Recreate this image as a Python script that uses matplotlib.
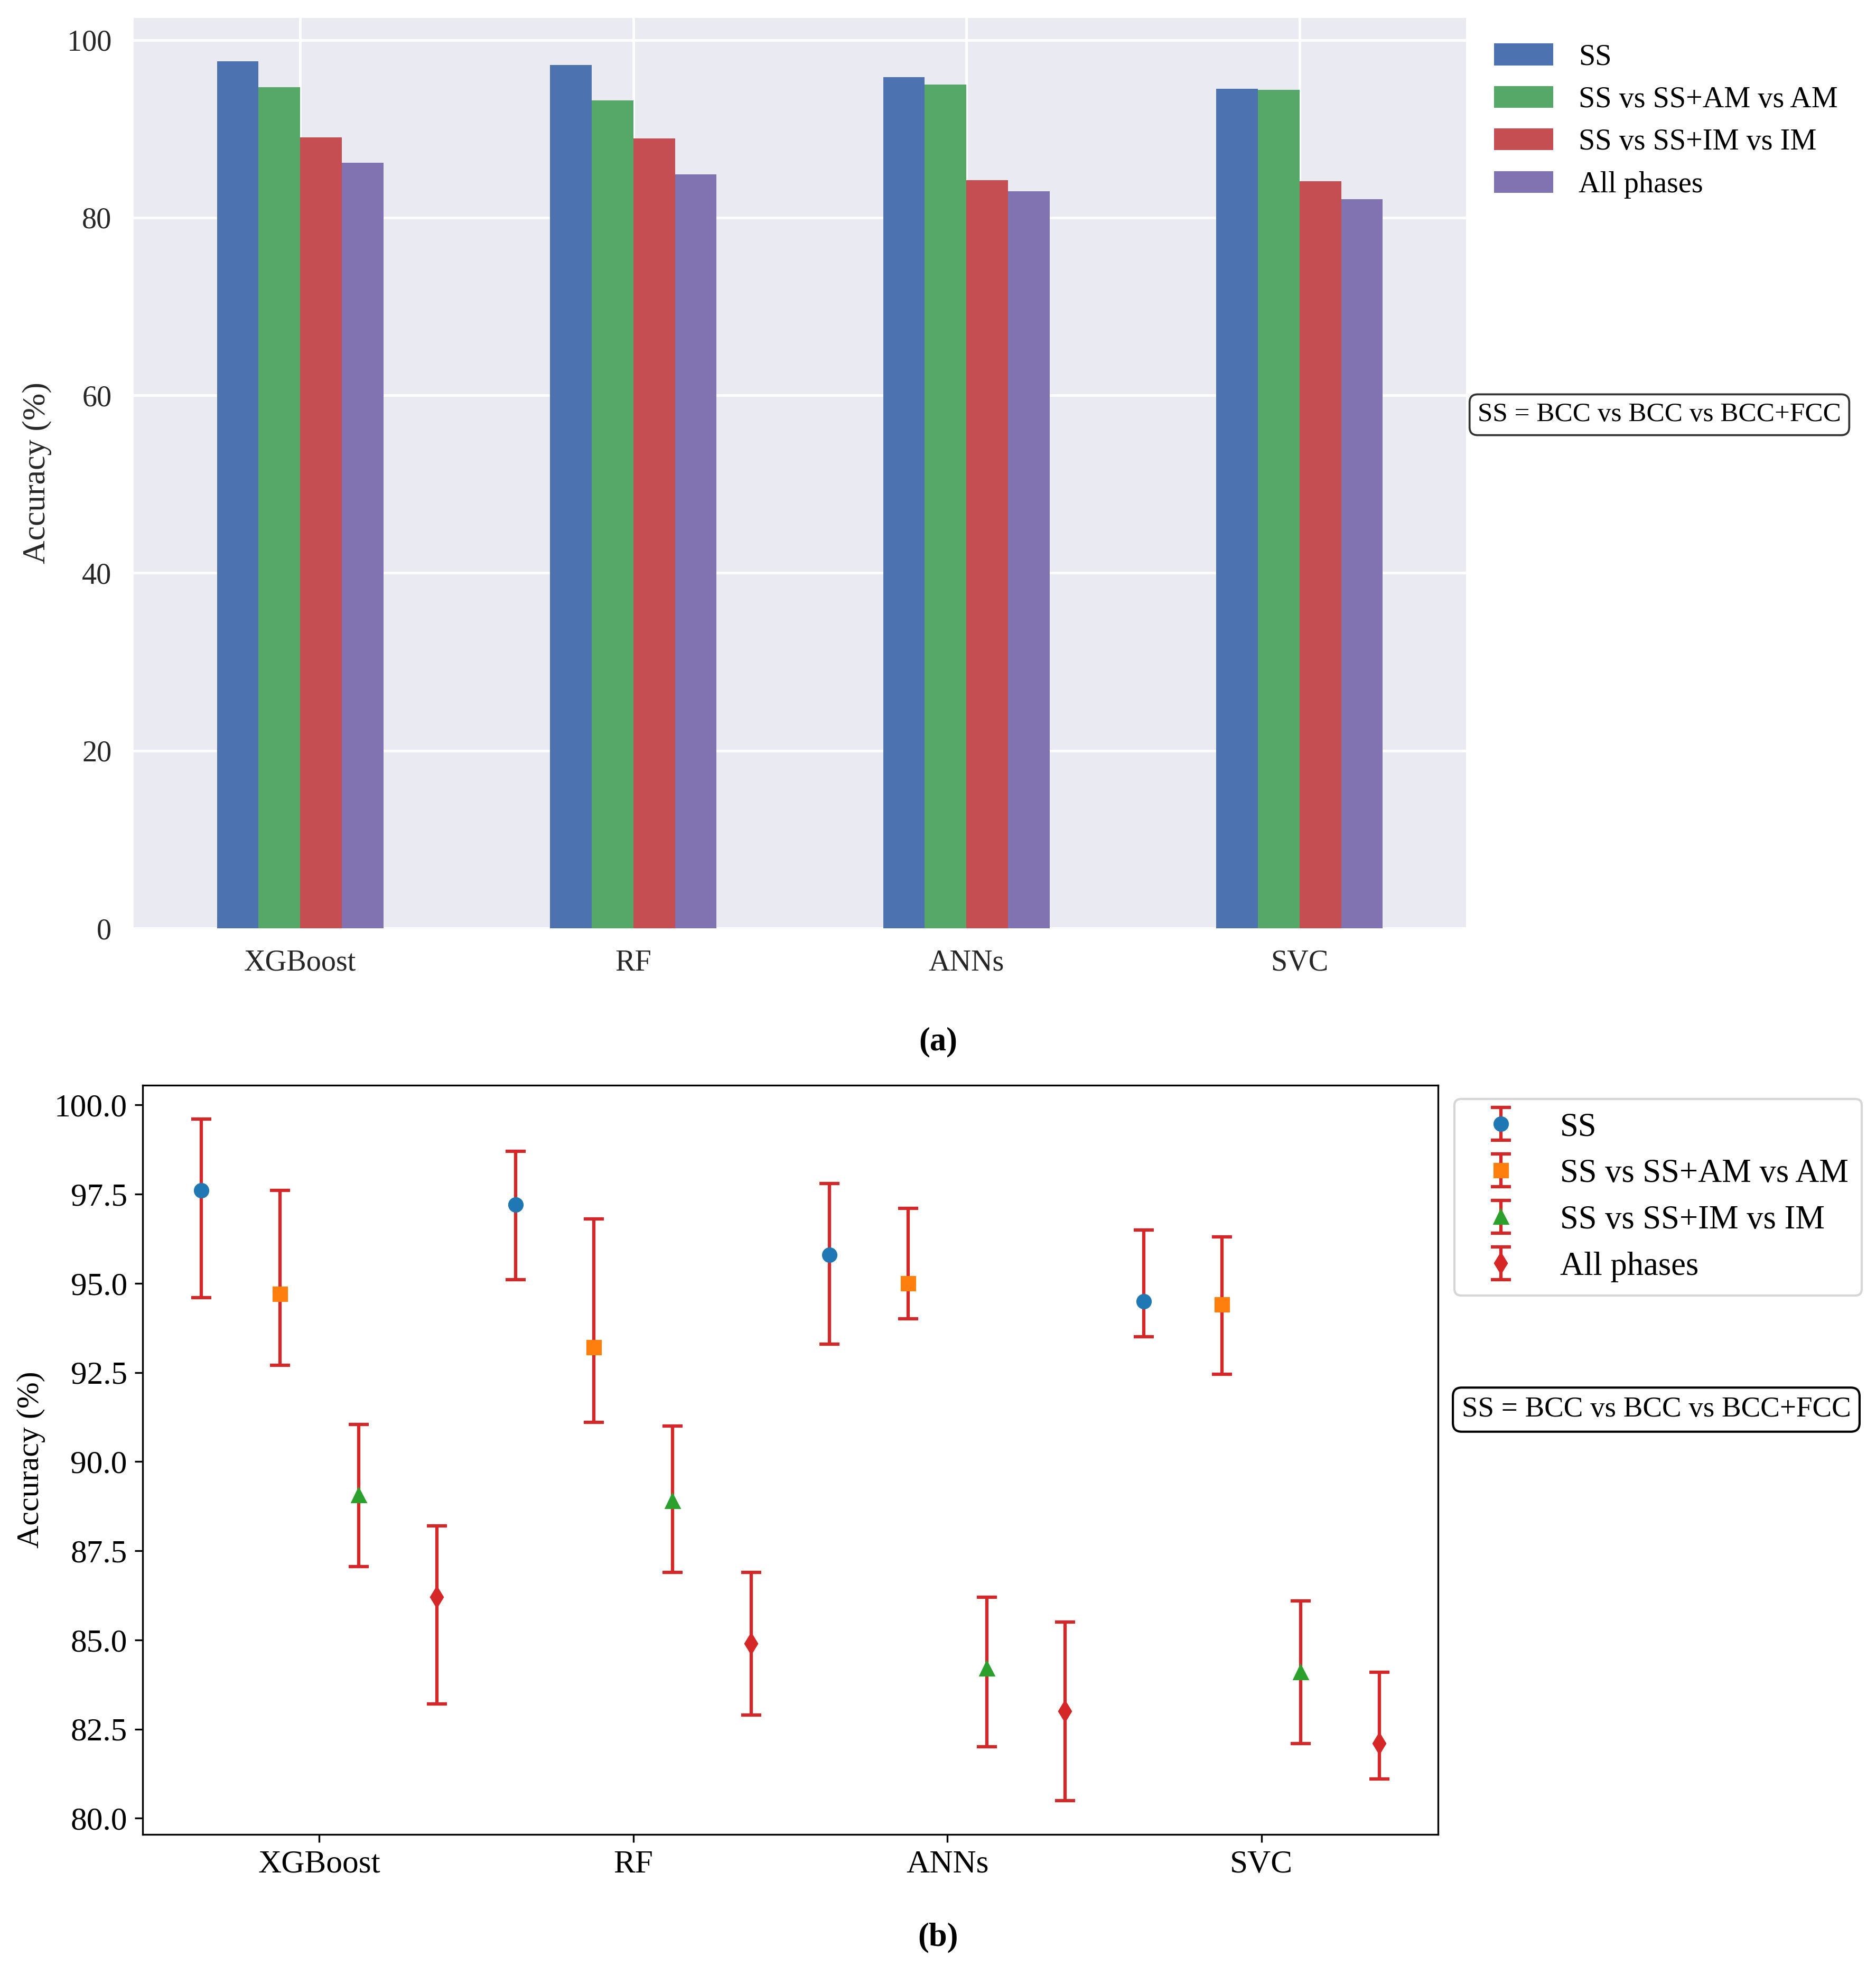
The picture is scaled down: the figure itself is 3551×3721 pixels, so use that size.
import matplotlib
matplotlib.use('Agg')
import matplotlib.pyplot as plt
import numpy as np

plt.rcParams['font.family'] = ['Liberation Serif', 'DejaVu Serif']

# данные
models = ['XGBoost', 'RF', 'ANNs', 'SVC']
tasks = ['SS', 'SS vs SS+AM vs AM', 'SS vs SS+IM vs IM', 'All phases']

acc_ss = [97.6, 97.2, 95.8, 94.5]
acc_am = [94.7, 93.2, 95.0, 94.4]
acc_im = [89.05, 88.9, 84.2, 84.1]
acc_all = [86.2, 84.9, 83.0, 82.1]

# верхняя и нижняя граница разброса
up_ss = [99.6, 98.7, 97.8, 96.5]
up_am = [97.6, 96.8, 97.1, 96.3]
up_im = [91.05, 91.0, 86.2, 86.1]
up_all = [88.2, 86.9, 85.5, 84.1]

low_ss = [94.6, 95.1, 93.3, 93.5]
low_am = [92.7, 91.1, 94.0, 92.45]
low_im = [87.05, 86.9, 82.0, 82.1]
low_all = [83.2, 82.9, 80.5, 81.1]

note = 'SS = BCC vs BCC vs BCC+FCC'

acc = [acc_ss, acc_am, acc_im, acc_all]
ups = [up_ss, up_am, up_im, up_all]
lows = [low_ss, low_am, low_im, low_all]

W, H = 3551, 3721
fig = plt.figure(figsize=(W/300., H/300.), dpi=300)

# ---------- (a) столбцы в стиле seaborn darkgrid ----------
ax1 = fig.add_axes([253/W, 1 - 1757/H, (2775-253)/W, (1757-34)/H])
bar_colors = ['#4C72B0', '#55A868', '#C44E52', '#8172B2']
x = np.arange(len(models))
w = 0.125
for i in range(4):
    ax1.bar(x + (i - 1.5)*w, acc[i], w, color=bar_colors[i], label=tasks[i], zorder=2)

ax1.set_facecolor('#EAEAF2')
ax1.grid(True, color='white', linewidth=1.2, zorder=0)
ax1.set_axisbelow(True)
for s in ax1.spines.values():
    s.set_visible(False)
ax1.set_xticks(x)
ax1.set_xticklabels(models)
ax1.set_xlim(-0.5, 3.5)
ax1.set_yticks([0, 20, 40, 60, 80, 100])
ax1.tick_params(axis='both', length=0, labelsize=13.5, colors='#262626')
ax1.tick_params(axis='y', pad=10)
ax1.tick_params(axis='x', pad=9.5)
ax1.set_ylabel('Accuracy (%)', fontsize=14.8, color='#262626', labelpad=7)

fig.legend(*ax1.get_legend_handles_labels(), loc='upper left',
           bbox_to_anchor=(2805/W, 1 - 60/H), frameon=False, fontsize=13.5,
           handlelength=2.0, handleheight=0.75, handletextpad=0.85,
           labelspacing=0.5, borderaxespad=0)
fig.text(3141/W, 1 - 785/H, note, ha='center', va='center', fontsize=12.3,
         bbox=dict(boxstyle='round,pad=0.3', fc='white', ec='#333333', lw=0.9))
fig.text(0.5, 1 - 1972/H, '(a)', ha='center', va='center', fontsize=15,
         fontweight='bold')

# ---------- (b) точки с разбросом ----------
ax2 = fig.add_axes([270/W, 1 - 3472/H, (2722-270)/W, (3472-2054)/H])
markers = ['o', 's', '^', 'd']
mcolors = ['tab:blue', 'tab:orange', 'tab:green', 'tab:red']
dx = 0.25
for i in range(4):
    a = np.array(acc[i])
    yerr = [a - np.array(lows[i]), np.array(ups[i]) - a]
    ax2.errorbar(x + (i - 1.5)*dx, a, yerr=yerr, fmt=markers[i],
                 color=mcolors[i], ecolor='#d62728', capsize=4.5,
                 elinewidth=1.5, capthick=1.5, markersize=6, label=tasks[i])

ax2.set_xticks(x)
ax2.set_xticklabels(models)
ax2.tick_params(axis='both', labelsize=14.7)
ax2.set_ylabel('Accuracy (%)', fontsize=14.4)

fig.legend(*ax2.get_legend_handles_labels(), loc='upper left',
           bbox_to_anchor=(2753/W, 1 - 2080/H), fontsize=15,
           labelspacing=0.48, handletextpad=0.8, borderaxespad=0)
fig.text(3135/W, 1 - 2668/H, note, ha='center', va='center', fontsize=13.2,
         bbox=dict(boxstyle='round,pad=0.3', fc='white', ec='black', lw=1.0))
fig.text(0.5, 1 - 3667/H, '(b)', ha='center', va='center', fontsize=15,
         fontweight='bold')

fig.savefig('out.png', dpi=300)
